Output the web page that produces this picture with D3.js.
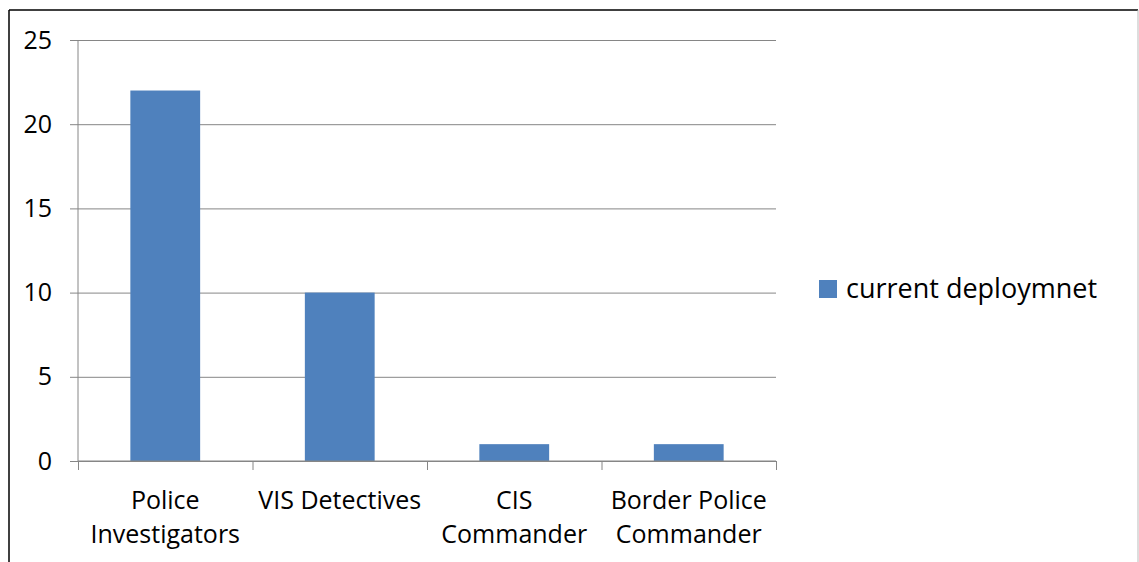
<!DOCTYPE html>
<html>
<head>
<meta charset="utf-8">
<script src="https://cdn.jsdelivr.net/npm/d3@7"></script>
<style>
  body { margin: 0; background: #fff; }
  text { font-family: "Open Sans", "Noto Sans", sans-serif; fill: #000; }
</style>
</head>
<body>
<div id="chart"></div>
<script>
const categories = ["Police Investigators", "VIS Detectives", "CIS Commander", "Border Police Commander"];
const categoryLines = [["Police", "Investigators"], ["VIS Detectives"], ["CIS", "Commander"], ["Border Police", "Commander"]];
const deployment = [22, 10, 1, 1];
const yTicks = [0, 5, 10, 15, 20, 25];
const seriesName = "current deploymnet";

const W = 1139, H = 562;
const margins = {top: 40, left: 78, right: 363, bottom: 101};
const width = W - margins.left - margins.right;
const height = H - margins.top - margins.bottom;

const root = d3.select('#chart').append('svg').attr('width', W).attr('height', H);

// outer frame
root.append('line').attr('x1', 9).attr('x2', 1138).attr('y1', 10).attr('y2', 10)
    .attr('stroke', '#000').attr('stroke-width', 1.5);
root.append('line').attr('x1', 9).attr('x2', 9).attr('y1', 10).attr('y2', H)
    .attr('stroke', '#000').attr('stroke-width', 1.5);
root.append('line').attr('x1', 1138).attr('x2', 1138).attr('y1', 10).attr('y2', H)
    .attr('stroke', '#bbb').attr('stroke-width', 1);

const svg = root.append('g').attr('transform', `translate(${margins.left}, ${margins.top})`);

const x = d3.scaleBand().domain(categories).range([0, width]).paddingInner(0.6).paddingOuter(0.3);
const y = d3.scaleLinear().domain([0, 25]).range([height, 0]);

// gridlines + y labels
const yAxis = svg.append('g')
    .call(d3.axisLeft(y).tickValues(yTicks).tickSize(-width).tickPadding(26));
yAxis.select('.domain').remove();
yAxis.selectAll('.tick line').attr('x1', -8).attr('stroke', '#868686');
yAxis.selectAll('.tick text').style('font-size', '25px').style('font-family', '"Open Sans", sans-serif');

svg.append('line').attr('x1', 0).attr('x2', 0).attr('y1', 0).attr('y2', height)
    .attr('stroke', '#868686');

// bars
svg.selectAll('.bar')
    .data(deployment)
    .enter()
    .append('rect')
    .attr('class', 'bar')
    .attr('x', (d, i) => x(categories[i]))
    .attr('y', d => y(d))
    .attr('width', x.bandwidth())
    .attr('height', d => height - y(d))
    .attr('fill', '#4F81BD');

// x axis with category boundary ticks
const xb = d3.scaleLinear().domain([0, categories.length]).range([0, width]);
const xAxis = svg.append('g').attr('transform', `translate(0, ${height})`)
    .call(d3.axisBottom(xb).tickValues(d3.range(categories.length + 1)).tickSize(9).tickFormat(''));
xAxis.select('.domain').attr('d', `M0,0H${width}`).attr('stroke', '#868686');
xAxis.selectAll('.tick line').attr('stroke', '#868686');

// category labels
categoryLines.forEach((lines, i) => {
    const cx = x(categories[i]) + x.bandwidth() / 2;
    lines.forEach((line, j) => {
        svg.append('text')
            .attr('x', cx)
            .attr('y', height + 48 + j * 34)
            .attr('text-anchor', 'middle')
            .style('font-size', '25px')
            .text(line);
    });
});

// legend
const legend = root.append('g').attr('transform', 'translate(819, 280)');
legend.append('rect').attr('width', 18).attr('height', 18).attr('fill', '#4F81BD');
legend.append('text').attr('x', 27).attr('y', 18).style('font-size', '27px').text(seriesName);
</script>
</body>
</html>
